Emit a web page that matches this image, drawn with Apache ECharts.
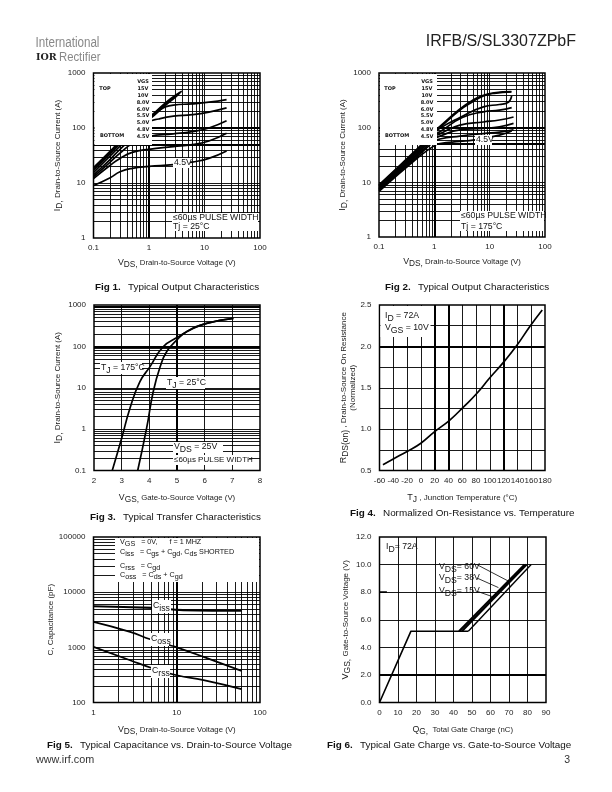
<!DOCTYPE html>
<html><head><meta charset="utf-8">
<style>html,body{margin:0;padding:0;background:#fff}#c{width:612px;height:792px}</style>
<script src="https://cdn.jsdelivr.net/npm/echarts@6/dist/echarts.min.js"></script>
</head><body><div id="c"></div>
<script>
// ---------- data ----------
const vgsLabels = ['15V','10V','8.0V','6.0V','5.5V','5.0V','4.8V','4.5V'];
const fig1_15V = [[0.1,19],[0.2,38],[0.3,58],[0.5,92],[1,155],[2,290],[3,395],[3.9,465]];
const fig1_10V = [[0.1,18],[0.2,36],[0.3,55],[0.5,88],[1,150],[2,275],[3,380],[3.7,445]];
const fig1_8V  = [[0.1,17],[0.2,34],[0.3,52],[0.5,84],[1,142],[2,262],[3,365],[3.5,425]];
const fig1_6V  = [[0.1,15.5],[0.2,31],[0.3,47],[0.5,76],[1,150],[1.5,210],[2.75,260],[6,275],[12,295],[25,329]];
const fig1_55V = [[0.1,14],[0.2,27],[0.3,41],[0.5,65],[1,128],[1.5,146],[2.75,164],[6,175],[12,195],[25,232]];
const fig1_5V  = [[0.1,13],[0.2,24],[0.3,35],[0.5,52],[1,70],[2.75,78],[6,86],[12,100],[25,135]];
const fig1_48V = [[0.1,12],[0.2,21],[0.3,28],[0.5,36],[1,41],[2.75,45.7],[6,50],[12,58],[25,80]];
const fig1_45V = [[0.1,9],[0.2,12.5],[0.3,16],[0.5,18.5],[1,20],[2.75,21.5],[6,24],[12,28],[25,38]];
const fig2_15V = [[0.1,9],[0.5,42],[1,85],[1.26,105],[2.9,220],[5,320],[7.7,392],[12,435],[24.7,455]];
const fig2_10V = [[0.1,8.7],[0.5,40],[1,82],[1.26,100],[2.9,209],[5,300],[7.7,380],[12,425],[24.7,450]];
const fig2_8V  = [[0.1,8.4],[0.5,38],[1,78],[1.26,97],[2.9,153],[7.7,240],[15,265],[21,285],[25,380]];
const fig2_6V  = [[0.1,8],[0.5,36],[1,74],[1.26,84],[3.2,153],[7.7,195],[15,210],[25,233]];
const fig2_55V = [[0.1,7.7],[0.5,34],[1,68],[1.26,77],[2.9,111],[7.7,127],[15,138],[27,157]];
const fig2_5V  = [[0.1,7.4],[0.5,32],[1,62],[1.26,70],[2.9,91],[7.7,97],[15,104],[27,120]];
const fig2_48V = [[0.1,7.1],[0.5,30],[1,56],[1.26,62],[2.9,70],[7.7,78],[15,83],[27,91]];
const fig2_45V = [[0.1,6.8],[0.5,28],[1,47],[1.26,51],[2.9,56],[5,59],[15,73],[25,87]];
const fig3_175 = [[2.66,0.1],[3,0.6],[3.3,3.2],[3.66,14],[4.02,32],[4.5,98],[5,163],[5.47,249],[6.07,361],[7.04,476]];
const fig3_25  = [[3.58,0.1],[3.9,1.04],[4.14,8],[4.39,32],[4.63,75],[5,143],[5.35,227],[6.07,361],[7.04,476]];
const fig4_rds = [[-55,0.57],[-40,0.64],[-20,0.73],[0,0.83],[20,0.97],[42,1.11],[62,1.27],[81,1.43],[100,1.62],[120,1.81],[139,2.01],[158,2.24],[176,2.44]];
const fig5_ciss = [[1,5560],[5.2,5180],[12,4740],[60,4600]];
const fig5_coss = [[1,2900],[2.75,1910],[4.8,1400],[8.3,1090],[10,1000],[21,672],[60,375]];
const fig5_crss = [[1,1020],[2.75,585],[5.2,413],[10,312],[21,254],[60,175]];
const fig6_ramp = [[0,0],[17,5.17],[48,5.17]];
const fig6_15V = [[43,5.17],[78.5,10]];
const fig6_38V = [[44.5,5.17],[79.5,10]];
const fig6_60V = [[48,5.17],[82,10]];
const fig6_lead60 = [[52.6,10],[69.7,8.8]];
const fig6_lead38 = [[52.6,9.03],[64.3,8.33]];
const fig6_lead15 = [[52.6,8.07],[61.6,7.65]];
const fig6_stub = [[0,8],[4,8]];
const vdsDecades = [0.1,1,10,100];
const idDecades = [1,10,100,1000];
const fig3IdDecades = [0.1,1,10,100,1000];
const fig5XDecades = [1,10,100];
const fig5YDecades = [100,1000,10000,100000];
const logSteps = [2,3,4,5,6,7,8,9];
const fig3XGrid = [3,4,5,6,7];
const fig4XGrid = [-40,-20,0,20,40,60,80,100,120,140,160];
const fig4YGrid = [0.75,1,1.25,1.5,1.75,2,2.25];
const fig6XGrid = [10,20,30,40,50,60,70,80];
const fig6YGrid = [2,4,6,8,10];

// ---------- helpers ----------
const FONT = '"Liberation Sans", Arial, sans-serif';
function minors(decades){
  const out = [];
  decades.forEach((d,i)=>{ if(i>0) out.push(d);
    if(i<decades.length-1) logSteps.forEach(m=>out.push(+(d*m).toPrecision(3))); });
  return out.filter(v=>v!==decades[decades.length-1]);
}
function gridSeries(idx, xs, ys, thickX, thickY){
  const d = [];
  xs.forEach(v=>d.push({xAxis:v,lineStyle:{width:(thickX||[]).includes(v)?2:0.9}}));
  ys.forEach(v=>d.push({yAxis:v,lineStyle:{width:(thickY||[]).includes(v)?2:0.9}}));
  return {type:'line',xAxisIndex:idx,yAxisIndex:idx,data:[],silent:true,z:1,
    markLine:{silent:true,symbol:'none',animation:false,label:{show:false},
      lineStyle:{color:'#000',type:'solid',width:0.9},data:d}};
}
function curve(idx, data, width, z){
  return {type:'line',xAxisIndex:idx,yAxisIndex:idx,data,smooth:0.5,showSymbol:false,silent:true,z:z||5,
    lineStyle:{color:'#000',width:width||1.7},clip:true};
}
function poly(idx, data, width){
  return {type:'line',xAxisIndex:idx,yAxisIndex:idx,data,smooth:false,showSymbol:false,silent:true,z:5,
    lineStyle:{color:'#000',width:width||1.6}};
}
const tickStyle = {fontFamily:FONT,fontSize:8,color:'#222',margin:8};
function xAx(idx,o){ return Object.assign({gridIndex:idx,axisLine:{show:false},axisTick:{show:false},splitLine:{show:false},minorSplitLine:{show:false},
  axisLabel:Object.assign({},tickStyle,{margin:6,formatter:v=>String(v)}),nameLocation:'middle',nameGap:19},o); }
function yAx(idx,o){ return Object.assign({gridIndex:idx,axisLine:{show:false},axisTick:{show:false},splitLine:{show:false},minorSplitLine:{show:false},
  axisLabel:Object.assign({},tickStyle,{formatter:v=>String(v)}),nameLocation:'middle',nameGap:28},o); }
const richName = size=>({
  v:{fontFamily:FONT,fontSize:size+1,color:'#222'},
  s:{fontFamily:FONT,fontSize:size+0.5,color:'#222',padding:[4,0,0,0],lineHeight:10} });
function nm(size){ return {fontFamily:FONT,fontSize:size||7.5,color:'#222',rich:richName(size||7.5)}; }

const subRich = size=>({ s:{fontFamily:FONT,fontSize:size,fill:'#111',padding:[5,0,0,0],lineHeight:size+2} });
function txt(x,y,text,size,extra){
  return {type:'text',z:120,silent:true,style:Object.assign({x,y,text,fontFamily:FONT,fontSize:size,fill:'#111',
    verticalAlign:'middle',align:'left',rich:subRich(size)},extra||{})};
}
function squeezed(x,y,text,size,scaleX,fill){
  return {type:'text',z:120,silent:true,x,y,scaleX,style:{x:0,y:0,text,fontFamily:FONT,fontSize:size,fill,verticalAlign:'middle',align:'left'}};
}
function box(x,y,w,h){ return {type:'rect',z:100,silent:true,shape:{x,y,width:w,height:h},style:{fill:'#fff'}}; }
function legendTxt(vx, tx, bx){
  const out = [];
  const mk=(x,y,t)=>({type:'text',z:120,silent:true,style:{x,y,text:t,fontFamily:'"DejaVu Sans", sans-serif',fontSize:5,fontWeight:'bold',fill:'#111',align:'center',verticalAlign:'middle'}});
  out.push(mk(vx,82,'VGS'));
  vgsLabels.forEach((t,i)=>out.push(mk(vx,89+i*6.75,t)));
  out.push(mk(tx,89,'TOP')); out.push(mk(bx,136,'BOTTOM'));
  return out;
}

const grids = [
  {left:93.5,top:73,width:166.5,height:165},
  {left:379,top:73,width:166,height:164},
  {left:94,top:305,width:166,height:165.5},
  {left:379.5,top:305,width:165.5,height:165.5},
  {left:93.5,top:537,width:166.5,height:165.5},
  {left:379.5,top:537,width:166.5,height:165.5}
].map(g=>Object.assign(g,{show:true,borderColor:'#000',borderWidth:1.5,backgroundColor:'#fff'}));

const xAxis = [
  xAx(0,{type:'log',min:0.1,max:100,name:'{v|V}{s|DS,} Drain-to-Source Voltage (V)',nameTextStyle:nm(7.8),nameGap:20}),
  xAx(1,{type:'log',min:0.1,max:100,name:'{v|V}{s|DS,} Drain-to-Source Voltage (V)',nameTextStyle:nm(7.8),nameGap:20}),
  xAx(2,{type:'value',min:2,max:8,interval:1,name:'{v|V}{s|GS,} Gate-to-Source Voltage (V)',nameTextStyle:nm(7.8),nameGap:22}),
  xAx(3,{type:'value',min:-60,max:180,interval:20,name:'{v|T}{s|J} , Junction Temperature (\u00b0C)',nameTextStyle:nm(8),nameGap:22}),
  xAx(4,{type:'log',min:1,max:100,name:'{v|V}{s|DS,} Drain-to-Source Voltage (V)',nameTextStyle:nm(7.8),nameGap:22}),
  xAx(5,{type:'value',min:0,max:90,interval:10,name:'{v|Q}{s|G,}  Total Gate Charge (nC)',nameTextStyle:nm(7.8),nameGap:22})
];
const yAxis = [
  yAx(0,{type:'log',min:1,max:1000,name:'{v|I}{s|D,} Drain-to-Source Current (A)',nameTextStyle:nm(8),nameGap:30}),
  yAx(1,{type:'log',min:1,max:1000,name:'{v|I}{s|D,} Drain-to-Source Current (A)',nameTextStyle:nm(8),nameGap:26}),
  yAx(2,{type:'log',min:0.1,max:1000,name:'{v|I}{s|D,} Drain-to-Source Current (A)',nameTextStyle:nm(8),nameGap:30}),
  yAx(3,{type:'value',min:0.5,max:2.5,interval:0.5,name:'{v|R}{s|DS(on)} , Drain-to-Source On Resistance\n(Normalized)',nameTextStyle:nm(8),nameGap:22,
    axisLabel:Object.assign({},tickStyle,{formatter:v=>v.toFixed(1)})}),
  yAx(4,{type:'log',min:100,max:100000,name:'C, Capacitance (pF)',nameTextStyle:nm(8),nameGap:33}),
  yAx(5,{type:'value',min:0,max:12,interval:2,name:'{v|V}{s|GS,} Gate-to-Source Voltage (V)',nameTextStyle:nm(8),nameGap:22,
    axisLabel:Object.assign({},tickStyle,{formatter:v=>v.toFixed(1)})})
];

const series = [
  gridSeries(0,minors(vdsDecades),minors(idDecades),[1],[50,100]),
  gridSeries(1,minors(vdsDecades),minors(idDecades),[1],[50,100]),
  gridSeries(2,fig3XGrid,minors(fig3IdDecades),[5],[100,900]),
  gridSeries(3,fig4XGrid,fig4YGrid,[20,40,120],[2]),
  gridSeries(4,minors(fig5XDecades),minors(fig5YDecades),[10],[]),
  gridSeries(5,fig6XGrid,fig6YGrid,[],[2]),
  ...[fig1_15V,fig1_10V,fig1_8V,fig1_6V,fig1_55V,fig1_5V,fig1_48V,fig1_45V].map(d=>curve(0,d)),
  ...[fig2_15V,fig2_10V,fig2_8V,fig2_6V,fig2_55V,fig2_5V,fig2_48V,fig2_45V].map(d=>curve(1,d)),
  curve(2,fig3_175),curve(2,fig3_25),
  curve(3,fig4_rds),
  curve(4,fig5_ciss,2.2),curve(4,fig5_coss),curve(4,fig5_crss),
  poly(5,fig6_ramp,1.6),poly(5,fig6_15V,2.2),poly(5,fig6_38V,2.2),poly(5,fig6_60V,1.4),
  poly(5,fig6_lead60,0.8),poly(5,fig6_lead38,0.8),poly(5,fig6_lead15,0.8),poly(5,fig6_stub,1.6)
];

const graphic = [
  // page furniture
  squeezed(35.5,43,'International',14,0.83,'#888'),
  txt(36,57.5,'IOR',9.5,{fill:'#222',fontFamily:'"DejaVu Serif", serif',fontWeight:'bold'}),
  squeezed(59,57.5,'Rectifier',13,0.87,'#888'),
  txt(576,42,'IRFB/S/SL3307ZPbF',16,{align:'right',fill:'#222'}),
  txt(36,760,'www.irf.com',10.8,{fill:'#333'}),
  txt(570,760,'3',10.5,{align:'right',fill:'#333'}),
  // fig 1
  box(94.5,74,57.5,71),
  ...legendTxt(143,105,112),
  box(172,213,86,18),
  txt(173,218,'\u226460\u00b5s PULSE WIDTH',8.7),
  txt(173,227,'Tj = 25\u00b0C',8.7),
  box(173,158,17,10), txt(174,163,'4.5V',8.7),
  // fig 2
  box(380,74,57,71),
  ...legendTxt(427,390,397),
  box(460,211,84,20),
  txt(461,216,'\u226460\u00b5s PULSE WIDTH',8.7),
  txt(461,227,'Tj = 175\u00b0C',8.7),
  box(475,135,17,10), txt(476,140,'4.5V',8.7),
  // fig 3
  box(100,362,42,12), txt(101,368,'T{s|J} = 175\u00b0C',8.7),
  box(166,377,39,12), txt(167,383,'T{s|J} = 25\u00b0C',8.7),
  box(173,442,50,11), txt(174,447,'V{s|DS} = 25V',8.7),
  box(173,455,76,10), txt(174,460,'\u226460\u00b5s PULSE WIDTH',8),
  // fig 4
  box(380.5,306,50,31),
  txt(385,316,'I{s|D} = 72A',8.7),
  txt(385,328,'V{s|GS} = 10V',8.7),
  // fig 5
  box(115,538,144,44),
  txt(120,542,'V{s|GS}   = 0V,      f = 1 MHZ',7.2),
  txt(120,552,'C{s|iss}   = C{s|gs} + C{s|gd}, C{s|ds} SHORTED',7.2),
  txt(120,566,'C{s|rss}   = C{s|gd}',7.2),
  txt(120,575,'C{s|oss}   = C{s|ds} + C{s|gd}',7.2),
  box(152,600,19,13), txt(153,606,'C{s|iss}',8.7),
  box(150,633,19,13), txt(151,639,'C{s|oss}',8.7),
  box(151,665,19,13), txt(152,671,'C{s|rss}',8.7),
  // fig 6
  txt(386,547,'I{s|D}= 72A',8.7),
  txt(439,567,'V{s|DS}= 60V',8.7),
  txt(439,578,'V{s|DS}= 38V',8.7),
  txt(439,591,'V{s|DS}= 15V',8.7),
  // captions
  ...[[95,287,'Fig 1.','Typical Output Characteristics'],
      [385,287,'Fig 2.','Typical Output Characteristics'],
      [90,517,'Fig 3.','Typical Transfer Characteristics'],
      [350,513,'Fig 4.','Normalized On-Resistance vs. Temperature'],
      [47,745,'Fig 5.','Typical Capacitance vs. Drain-to-Source Voltage'],
      [327,745,'Fig 6.','Typical Gate Charge vs. Gate-to-Source Voltage']].flatMap(([x,y,a,b])=>[
        txt(x,y,a,9.9,{fontWeight:'bold'}), txt(x+33,y,b,9.9)])
];

const chart = echarts.init(document.getElementById('c'),null,{renderer:'canvas'});
chart.setOption({animation:false,backgroundColor:'#fff',tooltip:{show:false},legend:{show:false},
  grid:grids,xAxis,yAxis,series,graphic:{elements:graphic}});
</script></body></html>
